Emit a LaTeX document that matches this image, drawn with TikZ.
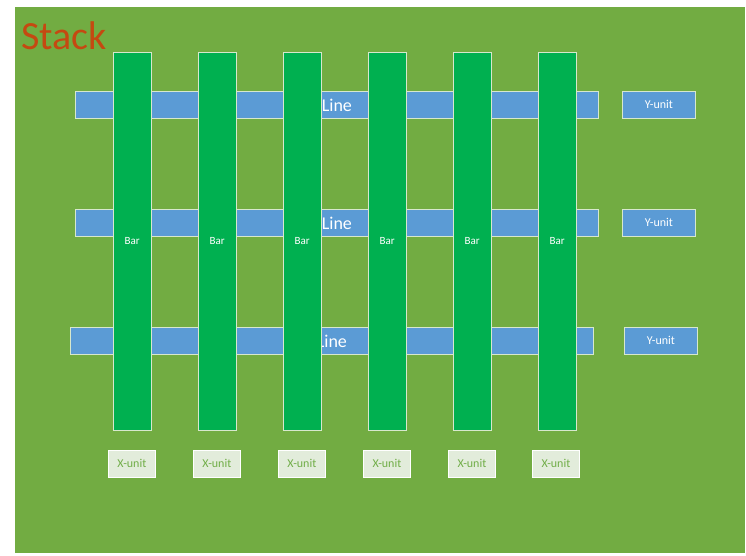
\documentclass[tikz,border=0pt]{standalone}
\usepackage{fontspec}
\setmainfont{Carlito}
\definecolor{bg}{RGB}{114,172,66}
\definecolor{lineblue}{RGB}{91,155,213}
\definecolor{bargreen}{RGB}{0,176,80}
\definecolor{unitfill}{RGB}{226,236,219}
\definecolor{unittext}{RGB}{112,173,71}
\definecolor{edge}{RGB}{215,232,205}
\definecolor{titlec}{RGB}{197,73,17}
\tikzset{
  box/.style={rectangle, inner sep=0pt, draw=edge, line width=0.8pt, anchor=north west},
  linebox/.style={box, fill=lineblue, minimum width=523pt, minimum height=27pt, text=white, font=\fontsize{18}{18}\selectfont},
  barbox/.style={box, fill=bargreen, minimum width=37.5pt, minimum height=378pt, text=white, font=\fontsize{11}{11}\selectfont},
  yunit/.style={box, fill=lineblue, minimum width=73pt, minimum height=27pt, text=white, font=\fontsize{12}{12}\selectfont},
  xunit/.style={box, fill=unitfill, draw=white, minimum width=47pt, minimum height=27pt, text=unittext, font=\fontsize{12}{12}\selectfont},
}
\begin{document}
\begin{tikzpicture}[x=1pt,y=-1pt]
\useasboundingbox (0,0) rectangle (746,555);
\fill[bg] (15,7) rectangle (745,553);
\node[anchor=base west, text=titlec, font=\fontsize{40}{40}\selectfont, inner sep=0pt] (title) at (21,49) {Stack};
% lines
\node[linebox] (l1) at (75,91) {Line};
\node[linebox] (l2) at (75,209) {Line};
\node[linebox] (l3) at (70,327) {Line};
% bars
\node[barbox] (b1) at (113,52) {Bar};
\node[barbox] (b2) at (198,52) {Bar};
\node[barbox] (b3) at (283,52) {Bar};
\node[barbox] (b4) at (368,52) {Bar};
\node[barbox] (b5) at (453,52) {Bar};
\node[barbox] (b6) at (538,52) {Bar};
% y units
\node[yunit] (y1) at (622,91) {Y-unit};
\node[yunit] (y2) at (622,209) {Y-unit};
\node[yunit] (y3) at (624,327) {Y-unit};
% x units
\node[xunit] (x1) at (108,450) {X-unit};
\node[xunit] (x2) at (193,450) {X-unit};
\node[xunit] (x3) at (278,450) {X-unit};
\node[xunit] (x4) at (363,450) {X-unit};
\node[xunit] (x5) at (448,450) {X-unit};
\node[xunit] (x6) at (532,450) {X-unit};
\end{tikzpicture}
\end{document}
